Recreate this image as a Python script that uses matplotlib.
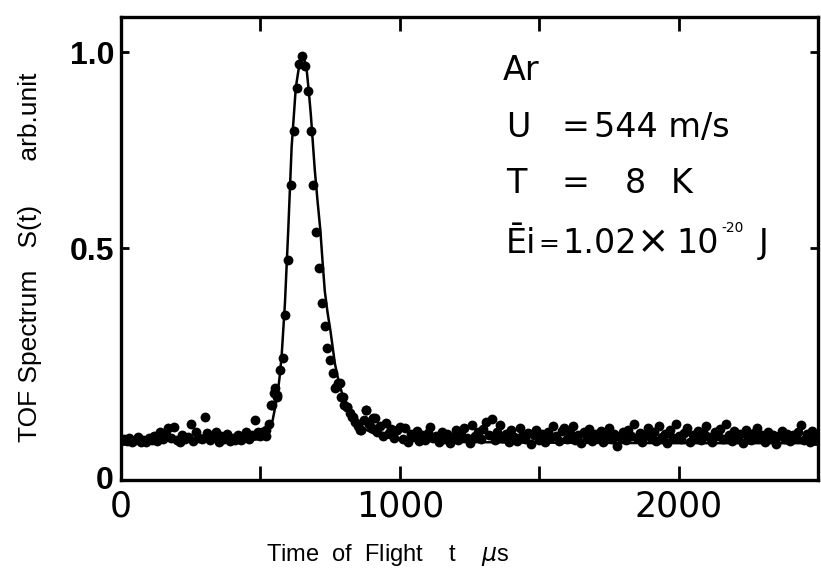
import numpy as np
import matplotlib
matplotlib.use('Agg')
import matplotlib.pyplot as plt
from matplotlib.transforms import ScaledTranslation

plt.rcParams['font.family'] = ['Liberation Sans', 'DejaVu Sans']
plt.rcParams['mathtext.fontset'] = 'dejavusans'

# measured TOF spectrum, one value per 10 us channel (t = 10 ... 2500 us)
channel_width = 10
signal = [
    0.012, 0.008, 0.015, 0.005, 0.010, 0.018, 0.006, 0.011, 0.004, 0.014,
    0.009, 0.020, 0.007, 0.031, 0.012, 0.024, 0.040, 0.015, 0.044, 0.010,
    0.006, 0.022, 0.013, 0.019, 0.052, 0.008, 0.030, 0.016, 0.012, 0.068,
    0.028, 0.010, 0.018, 0.031, 0.005, 0.020, 0.012, 0.026, 0.008, 0.015,
    0.011, 0.024, 0.009, 0.018, 0.030, 0.012, 0.022, 0.061, 0.030, 0.020,
    0.028, 0.035, 0.050, 0.100, 0.130, 0.125, 0.190, 0.220, 0.330, 0.470,
    0.660, 0.800, 0.910, 0.970, 0.990, 0.965, 0.900, 0.800, 0.660, 0.540,
    0.450, 0.360, 0.300, 0.245, 0.215, 0.180, 0.145, 0.155, 0.120, 0.100,
    0.095, 0.080, 0.070, 0.055, 0.045, 0.036, 0.060, 0.087, 0.050, 0.040,
    0.066, 0.030, 0.045, 0.020, 0.053, 0.028, 0.038, 0.015, 0.035, 0.044,
    0.012, 0.040, 0.005, 0.025, 0.018, 0.033, 0.008, 0.022, 0.010, 0.028,
    0.044, 0.015, 0.020, 0.006, 0.031, 0.012, 0.025, 0.002, 0.018, 0.035,
    0.010, 0.024, 0.040, 0.016, 0.003, 0.048, 0.020, 0.030, 0.012, 0.038,
    0.057, 0.022, 0.065, 0.010, 0.030, 0.048, 0.015, 0.025, 0.004, 0.035,
    0.018, 0.008, 0.042, 0.020, 0.012, 0.028, 0.000, 0.022, 0.035, 0.010,
    0.025, 0.006, 0.030, 0.015, 0.045, 0.020, 0.008, 0.032, 0.040, 0.012,
    0.028, 0.046, 0.010, 0.022, 0.003, 0.030, 0.018, 0.038, 0.008, 0.025,
    0.015, 0.032, 0.005, 0.020, 0.042, 0.012, 0.026, -0.005, 0.018, 0.030,
    0.010, 0.036, 0.020, 0.050, 0.014, 0.028, 0.006, 0.024, 0.040, 0.016,
    0.030, 0.008, 0.045, 0.018, 0.025, 0.002, 0.035, 0.015, 0.050, 0.020,
    0.012, 0.028, 0.040, 0.006, 0.022, 0.016, 0.034, 0.010, 0.026, 0.045,
    0.018, 0.004, 0.030, 0.020, 0.038, 0.012, 0.052, 0.024, 0.008, 0.032,
    0.015, 0.026, 0.002, 0.036, 0.018, 0.010, 0.028, 0.040, 0.014, 0.022,
    0.006, 0.030, 0.016, 0.024, 0.000, 0.020, 0.034, 0.012, 0.026, 0.008,
    0.022, 0.014, 0.030, 0.048, 0.010, 0.025, 0.004, 0.032, 0.018, 0.020,
]
t_channel = np.arange(1, len(signal) + 1) * channel_width

# second sweep points around the peak
extra_t = [505, 520, 539, 553, 560, 767, 785, 797, 809, 833, 857, 880, 903]
extra_s = [0.030, 0.020, 0.099, 0.144, 0.121, 0.142, 0.155, 0.121, 0.095, 0.070, 0.036, 0.087, 0.066]

# fitted curve
fit_t = [0, 400, 480, 510, 522, 535, 544, 552, 560, 568, 576, 588, 600, 612, 627,
         640, 648, 656, 665, 673, 681, 688, 695, 705, 715, 723, 731, 741, 751, 767,
         782, 797, 815, 833, 855, 880, 920, 1000, 1200, 1600, 2000, 2520]
fit_s = [0.010, 0.010, 0.011, 0.013, 0.020, 0.040, 0.061, 0.090, 0.121, 0.165,
         0.223, 0.359, 0.548, 0.758, 0.910, 0.970, 0.990, 0.985, 0.962, 0.905,
         0.840, 0.770, 0.700, 0.620, 0.546, 0.465, 0.390, 0.335, 0.290, 0.206,
         0.155, 0.120, 0.090, 0.070, 0.050, 0.036, 0.022, 0.010, 0.005, 0.003,
         0.002, 0.002]

fig = plt.figure(figsize=(8.21, 5.83), dpi=100)
ax = fig.add_axes([121 / 821, 1 - 480 / 583, 697 / 821, 463 / 583])

ax.plot(fit_t, fit_s, color='black', lw=1.8, zorder=2)
ax.scatter(t_channel, signal, s=50, color='black', lw=0, zorder=3)
ax.scatter(extra_t, extra_s, s=50, color='black', lw=0, zorder=3)

ax.set_xlim(0, 2500)
ax.set_ylim(-0.092, 1.09)

ax.set_xticks([0, 500, 1000, 1500, 2000, 2500])
ax.set_xticklabels(['0', '', '1000', '', '2000', ''], fontsize=25,
                   family=['DejaVu Sans'])
ax.set_yticks([0, 0.5, 1.0])
ax.set_yticklabels(['0', '0.5', '1.0'], fontsize=23, fontweight='bold')

ax.tick_params(axis='x', direction='in', length=10, width=2, pad=7,
               top=True, bottom=True)
ax.tick_params(axis='y', direction='in', length=6, width=2, pad=5,
               left=True, right=True)
for sp in ax.spines.values():
    sp.set_linewidth(2.4)

# the "0" label of the y axis sits at the corner in the original
zero_lab = ax.get_yticklabels()[0]
zero_lab.set_transform(zero_lab.get_transform() + ScaledTranslation(0, -0.34, fig.dpi_scale_trans))

fig.text(30 / 821, 1 - 257 / 583, 'TOF Spectrum   S(t)      arb.unit', rotation=90,
         ha='center', va='center', fontsize=19)
fig.text(388 / 821, 1 - 555 / 583, 'Time  of  Flight    t    $\\mu$s',
         ha='center', va='center', fontsize=17)

# annotation block
fs = 24
dv = ['DejaVu Sans']
def label(px, py, s, size=fs):
    fig.text(px / 821, 1 - py / 583, s, fontsize=size, va='baseline', family=dv)

label(503, 80, 'Ar')
label(506, 137, 'U')
label(561, 137, '=')
label(594, 137, '544 m/s')
label(506, 193, 'T')
label(561, 193, '=')
label(625, 193, '8')
label(671, 193, 'K')
label(506, 253, 'Ēi')
label(538, 251, '=', 18)
label(562, 253, '1.02')
label(637, 253, '×', 28)
label(676, 253, '10')
label(721, 232, '-20', 10)
label(759, 253, 'J')

fig.savefig('out.png', dpi=100)
